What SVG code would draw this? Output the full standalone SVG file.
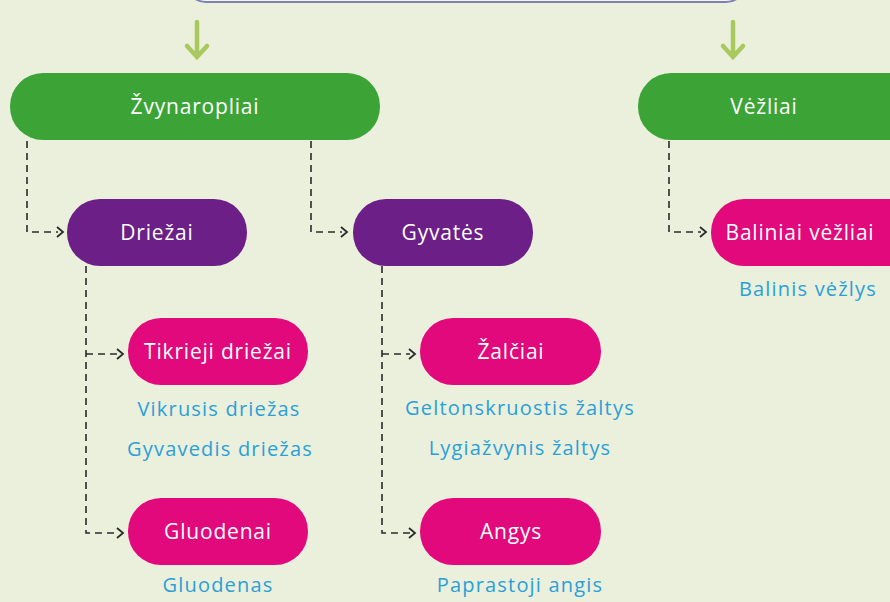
<svg xmlns="http://www.w3.org/2000/svg" width="890" height="602" viewBox="0 0 890 602">
<defs>
<style>
.bg{fill:#eaf0dc}
.green{fill:#3ca437}
.purple{fill:#6b1f87}
.pink{fill:#e1097b}
.lbl{font-family:"Open Sans","Liberation Sans",sans-serif;font-size:21px;letter-spacing:0.8px;fill:#ffffff;text-anchor:middle;dominant-baseline:central}
.sp{font-family:"Open Sans","Liberation Sans",sans-serif;font-size:20px;letter-spacing:1.2px;fill:#2a9fd8;text-anchor:middle;dominant-baseline:central}
.dash{fill:none;stroke:#2b2b2b;stroke-width:1.6;stroke-dasharray:7,5}
.ah{fill:none;stroke:#2b2b2b;stroke-width:1.8}
.garrow{fill:none;stroke:#a9c95e;stroke-width:4.5;stroke-linecap:round}
</style>
</defs>
<rect class="bg" x="0" y="0" width="890" height="602"/>
<g id="top">
<rect x="186" y="-40" width="560" height="42" rx="20" fill="#f3f5ea" stroke="#7d80b8" stroke-width="2"/>
</g>
<g id="connectors">
<path class="garrow" d="M197 22 V56 M187 46 L197 57 L207 46"/>
<path class="garrow" d="M733 22 V56 M723 46 L733 57 L743 46"/>
<path class="dash" d="M27 141 V232 H58"/>
<path class="ah" d="M57 227 L63 232 L57 237"/>
<path class="dash" d="M311 141 V232 H342"/>
<path class="ah" d="M341 227 L347 232 L341 237"/>
<path class="dash" d="M669 141 V232 H701"/>
<path class="ah" d="M700 227 L706 232 L700 237"/>
<path class="dash" d="M86 266 V533 H118 M86 354 H118"/>
<path class="ah" d="M117 349 L123 354 L117 359 M117 528 L123 533 L117 538"/>
<path class="dash" d="M382 266 V533 H410 M382 354 H410"/>
<path class="ah" d="M409 349 L415 354 L409 359 M409 528 L415 533 L409 538"/>
</g>
<g id="zvynaropliai"><rect class="green" x="10" y="73" width="370" height="67" rx="33"/><text class="lbl" x="195" y="106">Žvynaropliai</text></g>
<g id="vezliai"><rect class="green" x="638" y="73" width="290" height="67" rx="33"/><text class="lbl" x="764" y="106">Vėžliai</text></g>
<g id="driezai"><rect class="purple" x="67" y="199" width="180" height="67" rx="33"/><text class="lbl" x="157" y="232">Driežai</text></g>
<g id="gyvates"><rect class="purple" x="353" y="199" width="180" height="67" rx="33"/><text class="lbl" x="443" y="232">Gyvatės</text></g>
<g id="baliniai"><rect class="pink" x="711" y="199" width="210" height="67" rx="33"/><text class="lbl" x="800" y="232">Baliniai vėžliai</text></g>
<g id="tikrieji"><rect class="pink" x="128" y="318" width="180" height="67" rx="33"/><text class="lbl" x="218" y="351">Tikrieji driežai</text></g>
<g id="zalciai"><rect class="pink" x="420" y="318" width="181" height="67" rx="33"/><text class="lbl" x="511" y="351">Žalčiai</text></g>
<g id="gluodenai"><rect class="pink" x="128" y="498" width="180" height="67" rx="33"/><text class="lbl" x="218" y="531">Gluodenai</text></g>
<g id="angys"><rect class="pink" x="420" y="498" width="181" height="67" rx="33"/><text class="lbl" x="511" y="531">Angys</text></g>
<g id="species">
<text class="sp" x="808" y="288">Balinis vėžlys</text>
<text class="sp" x="219" y="408">Vikrusis driežas</text>
<text class="sp" x="220" y="448">Gyvavedis driežas</text>
<text class="sp" x="218" y="584">Gluodenas</text>
<text class="sp" x="520" y="407">Geltonskruostis žaltys</text>
<text class="sp" x="520" y="447">Lygiažvynis žaltys</text>
<text class="sp" x="520" y="584">Paprastoji angis</text>
</g>
</svg>
